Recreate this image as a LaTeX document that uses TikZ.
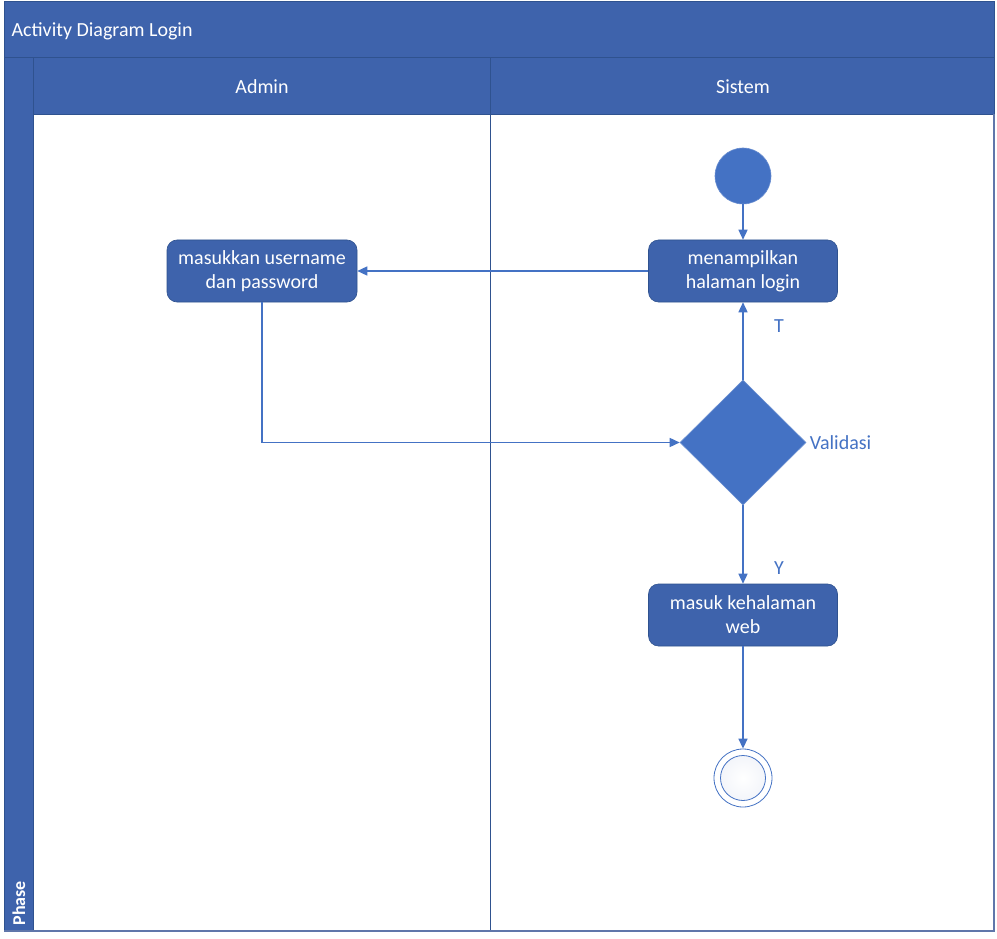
\documentclass[tikz,border=0pt]{standalone}
\usepackage{fontspec}
\setmainfont{Carlito}
\usetikzlibrary{shapes.geometric,arrows.meta}
\definecolor{band}{RGB}{62,99,172}
\definecolor{bandline}{RGB}{47,82,143}
\definecolor{accent}{RGB}{68,114,196}
\definecolor{frameline}{RGB}{96,118,170}
\definecolor{endfill}{RGB}{243,245,250}
\tikzset{
  px/.style={x=1pt,y=-1pt},
  bandbox/.style={fill=band,draw=bandline,line width=0.8pt},
  lanetext/.style={text=white,font=\fontsize{20}{24}\selectfont},
  actbox/.style={rectangle,rounded corners=10pt,fill=band,draw=bandline,line width=0.6pt,
    minimum width=189pt,minimum height=62pt,align=center,text=white,
    font=\fontsize{20}{24}\selectfont,inner sep=2pt},
  flow/.style={draw=accent,line width=1.5pt,-{Triangle[length=10pt,width=9pt]}},
  guard/.style={text=accent,font=\fontsize{20}{24}\selectfont},
}
\begin{document}
\begin{tikzpicture}[px]
\useasboundingbox (0,0) rectangle (997,939);
% swimlane frame
\fill[white] (4,1) rectangle (994,931);
\draw[bandbox] (4,1) rectangle (994,57);
\draw[bandbox] (4,57) rectangle (33,931);
\draw[bandbox] (33,57) rectangle (490,114);
\draw[bandbox] (490,57) rectangle (994,114);
\draw[bandline,line width=1pt] (490,114) -- (490,931);
\draw[frameline,line width=1.2pt] (4,931) -- (994,931) -- (994,114);
\node[lanetext,anchor=west] (title) at (8,31) {Activity Diagram Login};
\node[lanetext] (admin) at (262,87) {Admin};
\node[lanetext] (sistem) at (743,87) {Sistem};
\node[lanetext,rotate=90,anchor=west,font=\fontsize{18}{22}\selectfont\bfseries] (phase) at (19,929) {Phase};
% activity nodes
\node[circle,fill=accent,draw=accent!80!white,line width=0.6pt,minimum size=56pt,inner sep=0pt] (start) at (743,176) {};
\node[actbox] (show) at (743,271) {menampilkan\\halaman login};
\node[actbox,minimum width=190pt] (input) at (262,271) {masukkan username\\dan password};
\node[diamond,fill=accent,draw=accent!80!white,line width=0.6pt,minimum width=126pt,minimum height=125pt,inner sep=0pt,aspect=1] (check) at (743,442.5) {};
\node[guard,anchor=west] (checklbl) at (check.east) {Validasi};
\node[actbox] (web) at (743,615) {masuk kehalaman\\web};
\node[circle,draw=accent,line width=0.8pt,fill=white,minimum size=58pt,inner sep=0pt] (final) at (743,778) {};
\node[circle,draw=accent,line width=0.8pt,inner color=white,outer color=endfill,minimum size=45pt,inner sep=0pt] (finalin) at (final.center) {};
% connectors
\draw[flow] (start) -- (show);
\draw[flow] (show.west) -- (input.east);
\draw[flow] (input.south) |- (check.west);
\draw[flow] (check.north) -- (show.south);
\draw[flow] (check.south) -- (web.north);
\draw[flow] (web.south) -- (final.north);
\node[guard] (tlbl) at (779,326) {T};
\node[guard] (ylbl) at (779,568) {Y};
\end{tikzpicture}
\end{document}
